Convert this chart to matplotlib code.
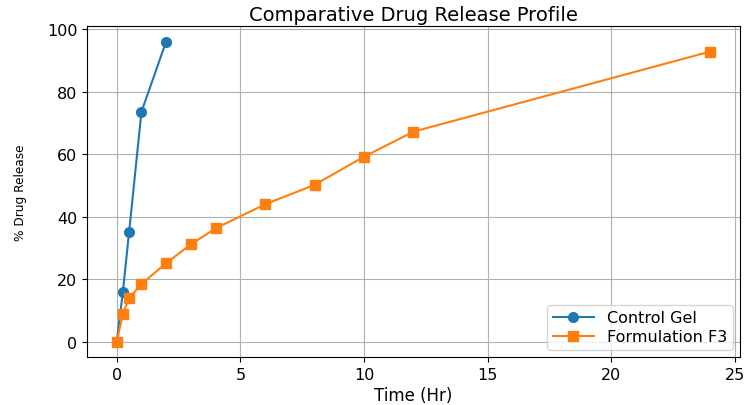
import matplotlib
matplotlib.use("Agg")
import matplotlib.pyplot as plt

control_time = [0, 0.25, 0.5, 1, 2]
control_release = [0, 16, 35, 73.5, 96]

f3_time = [0, 0.25, 0.5, 1, 2, 3, 4, 6, 8, 10, 12, 24]
f3_release = [0, 9, 14, 18.5, 25.2, 31.2, 36.3, 44, 50.2, 59.2, 67.2, 92.8]

fig = plt.figure(figsize=(7.54, 4.06), dpi=100)
ax = fig.add_axes([0.1154, 0.1182, 0.866, 0.8141])

ax.plot(control_time, control_release, marker='o', markersize=7, color='#1f77b4', label='Control Gel')
ax.plot(f3_time, f3_release, marker='s', markersize=7, color='#ff7f0e', label='Formulation F3')

ax.set_title('Comparative Drug Release Profile', fontsize=14, pad=5)
ax.set_xlabel('Time (Hr)', fontsize=12, labelpad=3)
ax.set_ylabel('% Drug Release', fontsize=8.7, labelpad=14)
ax.tick_params(labelsize=11.5)
ax.grid(True)
ax.legend(loc='lower right', fontsize=11.5, labelspacing=0.25, handlelength=2.6,
          borderaxespad=0.45, borderpad=0.35)

fig.savefig('out.png', dpi=100)
